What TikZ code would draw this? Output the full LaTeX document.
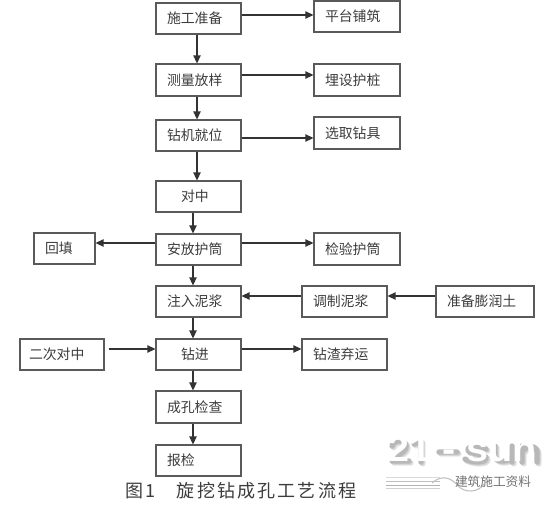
\documentclass[tikz,border=0pt]{standalone}
\usepackage{fontspec}
\setmainfont{Noto Sans CJK SC}
\newfontfamily\wmfont{Liberation Sans}[FakeStretch=1.1]
\newfontfamily\capfont{Noto Sans CJK SC}[LetterSpace=12]
\usetikzlibrary{arrows.meta}
\definecolor{edgec}{HTML}{5A5A5A}
\definecolor{textc}{HTML}{3C3C3C}
\definecolor{linec}{HTML}{333333}
\tikzset{
  bx/.style={draw=edgec,line width=0.85pt,inner sep=0pt,text=textc,font=\fontsize{10.4pt}{12pt}\selectfont,align=left},
  arr/.style={draw=linec,line width=1pt,-{Triangle[length=6pt,width=5.5pt]}},
}
\newcommand\bxx[7]{%
  \pgfmathsetmacro\mycx{(#2+#4)/2}\pgfmathsetmacro\mycy{(#3+#5)/2}%
  \pgfmathsetmacro\mybw{(#4-#2)*0.75}\pgfmathsetmacro\mybh{(#5-#3)*0.75}\pgfmathsetmacro\myins{#6*0.75}%
  \node[bx,minimum width=\mybw pt,minimum height=\mybh pt,text width=\mybw pt] (#1) at (\mycx,\mycy) {\hspace*{\myins pt}\raisebox{-1pt}{#7}};}
\newcommand\wmshadow[2]{%
  \draw[#2,line width=4pt,xshift=#1*0.75pt,yshift=-#1*0.75pt,line cap=round,line join=round]
    (390,444) .. controls (391,437) and (405,437) .. (404,445) .. controls (403,451) and (392,454) .. (390,459) -- (407,459)
    (412,442) -- (419,439) -- (419,460)
    (437,450) -- (455,450)
    (484,447) .. controls (478,443) and (465,444) .. (466,448) .. controls (467,453) and (484,451) .. (484,456) .. controls (484,461) and (470,461) .. (463,457)
    (493,444) -- (493,454) .. controls (493,460) and (505,461) .. (510,455)
    (510,444) -- (510,460)
    (520,460) -- (520,444)
    (520,450) .. controls (524,443) and (535,443) .. (535,450) -- (535,460);}
\begin{document}
\begin{tikzpicture}[x=0.75pt,y=-0.75pt]
\useasboundingbox (0,0) rectangle (550,507);
\fill[white] (0,0) rectangle (550,507);
\bxx{a}{156}{3}{241}{34}{11}{施工准备}
\bxx{b}{156}{64}{241}{96}{11}{测量放样}
\bxx{c}{156}{120}{241}{151}{11}{钻机就位}
\bxx{d}{156}{181}{241}{212}{25}{对中}
\bxx{e}{156}{234}{241}{265}{11}{安放护筒}
\bxx{f}{156}{286}{241}{317}{11}{注入泥浆}
\bxx{g}{156}{339}{241}{370}{25}{钻进}
\bxx{h}{156}{391}{241}{423}{11}{成孔检查}
\bxx{i}{156}{445}{241}{476}{11}{报检}
\bxx{p}{314}{1}{400}{32}{11}{平台铺筑}
\bxx{q}{314}{64}{400}{96}{11}{埋设护桩}
\bxx{r}{314}{117}{400}{149}{11}{选取钻具}
\bxx{s}{314}{233}{400}{265}{11}{检验护筒}
\bxx{t}{302}{286}{387}{317}{11}{调制泥浆}
\bxx{u}{436}{286}{534}{317}{11}{准备膨润土}
\bxx{v}{302}{339}{387}{370}{11}{钻渣弃运}
\bxx{w}{34}{233}{95}{264}{11}{回填}
\bxx{x}{20}{339}{104}{370}{9}{二次对中}
\node[anchor=west,inner sep=0pt,text=textc,font=\capfont\fontsize{13.5pt}{15pt}\selectfont] (cap) at (125,491) {图1\hspace{1.2em}旋挖钻成孔工艺流程};
% connectors
\coordinate (v1) at (197,0);
\coordinate (v2) at (193,0);
\draw[arr] (a.south -| v1) -- (b.north -| v1);
\draw[arr] (b.south -| v1) -- (c.north -| v1);
\draw[arr] (c.south -| v1) -- (d.north -| v1);
\draw[arr] (d.south -| v2) -- (e.north -| v2);
\draw[arr] (e.south -| v2) -- (f.north -| v2);
\draw[arr] (f.south -| v2) -- (g.north -| v2);
\draw[arr] (g.south -| v2) -- (h.north -| v2);
\draw[arr] (h.south -| v2) -- (i.north -| v2);
\coordinate (h1) at (0,15);
\coordinate (h2) at (0,75);
\coordinate (h3) at (0,138);
\coordinate (h4) at (0,243);
\coordinate (h5) at (0,296);
\coordinate (h6) at (0,349);
\draw[arr] (a.east |- h1) -- (p.west |- h1);
\draw[arr] (b.east |- h2) -- (q.west |- h2);
\draw[arr] (c.east |- h3) -- (r.west |- h3);
\draw[arr] (e.east |- h4) -- (s.west |- h4);
\draw[arr] (e.west |- h4) -- (w.east |- h4);
\draw[arr] (t.west |- h5) -- (f.east |- h5);
\draw[arr] (u.west |- h5) -- (t.east |- h5);
\draw[arr] (g.east |- h6) -- (v.west |- h6);
\draw[arr,shorten <=3pt] (x.east |- h6) -- (g.west |- h6);
% watermark
\wmshadow{4}{black!10}
\wmshadow{3}{black!18}
\wmshadow{2}{black!28}
\node[inner sep=0pt,text=white,font=\wmfont\bfseries\fontsize{27pt}{28pt}\selectfont] (wm) at (462,449) {21 - sun};
\foreach \yy/\c in {477/black!15,481/black!25,485/black!30,488/black!18}{
  \draw[\c,line width=0.7pt] (386,\yy) -- (440,\yy);
}
\draw[black!25,line width=0.8pt] (432,483) .. controls (442,474) and (452,478) .. (458,486) .. controls (465,493) and (478,493) .. (484,484);
\node[inner sep=0pt,text=black!55,font=\fontsize{9.5pt}{11pt}\selectfont] (wm2) at (493,482) {建筑施工资料};
\end{tikzpicture}
\end{document}
